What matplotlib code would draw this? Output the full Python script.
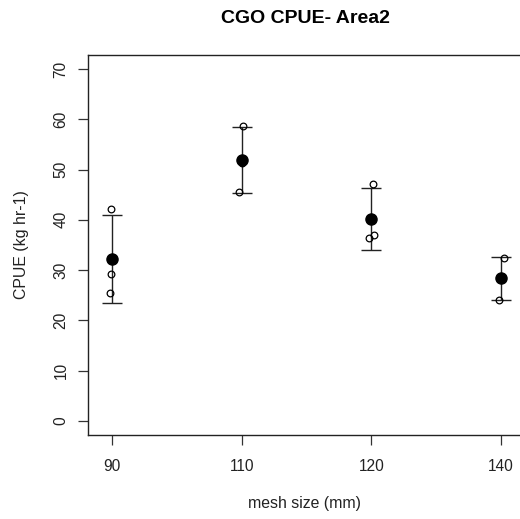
import numpy as np
import matplotlib
matplotlib.use("Agg")
import matplotlib.pyplot as plt

plt.rcParams['font.family'] = ['Liberation Sans', 'DejaVu Sans']

# 网目尺寸分组
mesh_labels = ["90", "110", "120", "140"]

# 每组的单次 CPUE 观测值 (kg hr-1)
cpue_90 = [42.1, 29.2, 25.5]
cpue_110 = [58.6, 45.5, 51.4]
cpue_120 = [47.2, 37.0, 36.3]
cpue_140 = [32.5, 24.05, 28.5]

# 观测点的横向抖动
jitter_90 = [-0.008, -0.008, -0.015]
jitter_110 = [0.01, -0.017, 0.0]
jitter_120 = [0.015, 0.018, -0.015]
jitter_140 = [0.025, -0.013, 0.0]

groups = [cpue_90, cpue_110, cpue_120, cpue_140]
jitters = [jitter_90, jitter_110, jitter_120, jitter_140]

x = np.arange(1, len(mesh_labels) + 1)
means = np.array([np.mean(g) for g in groups])
sds = np.array([np.std(g, ddof=1) for g in groups])

fig = plt.figure(figsize=(5.2, 5.19), dpi=100)
ax = fig.add_axes([88 / 520, 1 - 435 / 519, (522 - 88) / 520, 380 / 519])

# 误差棒 (均值 ± 标准差)
ax.errorbar(x, means, yerr=sds, fmt='none', ecolor='#222222',
            elinewidth=1, capsize=7.5, capthick=1, zorder=2)

# 原始观测点
for xi, g, j in zip(x, groups, jitters):
    ax.plot(xi + np.array(j), g, 'o', mfc='none', mec='black',
            mew=0.9, ms=4.8, zorder=3)

# 均值
ax.plot(x, means, 'o', color='black', ms=8, zorder=4)

ax.set_xlim(0.815, 4.162)
ax.set_ylim(-2.8, 72.8)
ax.set_xticks(x)
ax.set_xticklabels(mesh_labels)
ax.set_yticks(np.arange(0, 71, 10))
for lab in ax.get_yticklabels():
    lab.set_rotation(90)
    lab.set_va('center')

ax.tick_params(axis='x', length=7, width=0.9, pad=10, labelsize=11.2,
               color='#333333', labelcolor='#222222')
ax.tick_params(axis='y', length=7, width=0.9, pad=7, labelsize=11.2,
               color='#333333', labelcolor='#222222')
for s in ax.spines.values():
    s.set_linewidth(1.0)
    s.set_color('#222222')

ax.set_xlabel('mesh size (mm)', fontsize=11.4, labelpad=16, color='#222222')
ax.set_ylabel('CPUE (kg hr-1)', fontsize=11.4, labelpad=18, color='#222222')
ax.set_title('CGO CPUE- Area2', fontsize=14, fontweight='bold', pad=23)

fig.savefig('out.png', dpi=100)
